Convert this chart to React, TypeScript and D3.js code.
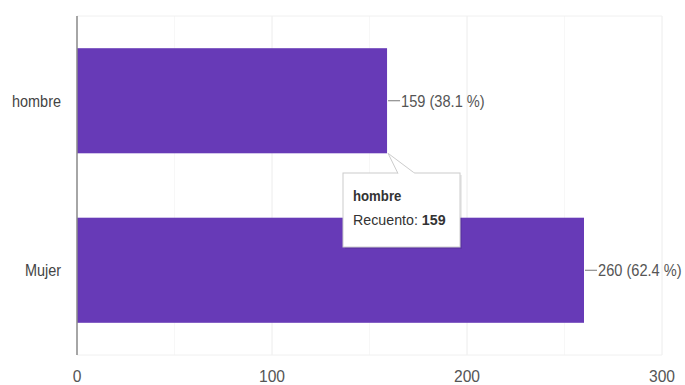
import React from "react";
import * as d3 from "d3";

const categories = ["hombre", "Mujer"];
const counts = [159, 260];
const percents = ["38.1", "62.4"];
const xTicks = [0, 100, 200, 300];
const minorTicks = [50, 150, 250];
const tooltipTitle = "hombre";
const tooltipLabel = "Recuento: ";
const tooltipValue = "159";

const W = 685;
const H = 385;
const M = { left: 77, right: 23, top: 16, bottom: 30 };

function SText({ x, y, sx, children, ...rest }: any) {
  return (
    <g transform={`translate(${x},${y}) scale(${sx},1)`}>
      <text x={0} y={0} {...rest}>
        {children}
      </text>
    </g>
  );
}

export default function App() {
  const x = d3.scaleLinear().domain([0, 300]).range([M.left, W - M.right]);
  const y = d3
    .scaleBand<string>()
    .domain(categories)
    .range([M.top, H - M.bottom])
    .paddingInner(0.38)
    .paddingOuter(0.19);
  const font = "'Liberation Sans', Arial, sans-serif";
  const color = "#673ab7";
  const b0 = y(categories[0])!;
  const bh = y.bandwidth();
  const tipX = x(counts[0]) + 1;
  const tipY = b0 + bh;
  const boxX = 343;
  const boxY = 173;
  return (
    <svg
      width={W}
      height={H}
      style={{ position: "absolute", left: 0, top: 0, background: "#fff" }}
      fontFamily={font}
    >
      {/* grid */}
      {minorTicks.map((t) => (
        <line key={"m" + t} x1={x(t)} x2={x(t)} y1={M.top} y2={H - M.bottom} stroke="#f7f7f7" />
      ))}
      {xTicks.slice(1).map((t) => (
        <line key={"g" + t} x1={x(t)} x2={x(t)} y1={M.top} y2={H - M.bottom} stroke="#ececec" />
      ))}
      <line x1={M.left} x2={x(300)} y1={M.top} y2={M.top} stroke="#f0f0f0" />
      <line x1={M.left} x2={x(300)} y1={H - M.bottom} y2={H - M.bottom} stroke="#f0f0f0" />
      {/* bars */}
      {categories.map((c, i) => (
        <rect key={c} x={x(0)} y={y(c)!} width={x(counts[i]) - x(0)} height={bh} fill={color} />
      ))}
      {/* axis line */}
      <line x1={M.left} x2={M.left} y1={M.top} y2={H - M.bottom} stroke="#888" strokeWidth={1.5} />
      {/* category labels */}
      {categories.map((c) => (
        <SText key={c} x={M.left - 16} y={y(c)! + bh / 2 + 6} sx={0.85} textAnchor="end" fontSize={17} fill="#444">
          {c}
        </SText>
      ))}
      {/* x tick labels */}
      {xTicks.map((t) => (
        <SText key={t} x={x(t)} y={H - 3} sx={0.92} textAnchor="middle" fontSize={17} fill="#555">
          {t}
        </SText>
      ))}
      {/* value labels */}
      {categories.map((c, i) => {
        const ex = x(counts[i]);
        const cy = y(c)! + bh / 2;
        return (
          <g key={"v" + c}>
            <line x1={ex + 1} x2={ex + 13} y1={cy} y2={cy} stroke="#777" />
            <SText x={ex + 14} y={cy + 6} sx={0.86} fontSize={17} fill="#555">
              {`${counts[i]} (${percents[i]} %)`}
            </SText>
          </g>
        );
      })}
      {/* tooltip */}
      <g>
        <rect x={boxX + 2} y={boxY + 2} width={117} height={74} fill="rgba(0,0,0,0.08)" />
        <rect x={boxX} y={boxY} width={117} height={74} fill="#fff" stroke="#ccc" />
        <path
          d={`M${boxX + 55},${boxY + 0.5} L${tipX},${tipY} L${boxX + 72},${boxY + 0.5}`}
          fill="#fff"
          stroke="#ccc"
        />
        <line x1={boxX + 55.5} x2={boxX + 71.5} y1={boxY + 0.5} y2={boxY + 0.5} stroke="#fff" strokeWidth={1.5} />
        <SText x={boxX + 10} y={boxY + 28} sx={0.88} fontSize={15} fontWeight="bold" fill="#333">
          {tooltipTitle}
        </SText>
        <SText x={boxX + 10} y={boxY + 52} sx={0.95} fontSize={15} fill="#333">
          {tooltipLabel}
          <tspan fontWeight="bold">{tooltipValue}</tspan>
        </SText>
      </g>
    </svg>
  );
}
